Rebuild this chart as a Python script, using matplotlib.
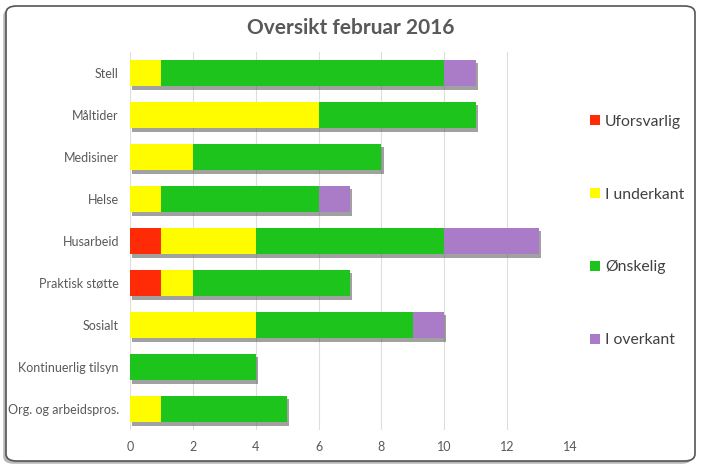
import matplotlib.pyplot as plt
import matplotlib.patheffects as pe
from matplotlib.patches import FancyBboxPatch, Patch
import numpy as np

plt.rcParams['font.family'] = ['Lato', 'DejaVu Sans']

categories = ['Stell', 'Måltider', 'Medisiner', 'Helse', 'Husarbeid',
              'Praktisk støtte', 'Sosialt', 'Kontinuerlig tilsyn',
              'Org. og arbeidspros.']
series = ['Uforsvarlig', 'I underkant', 'Ønskelig', 'I overkant']
uforsvarlig = [0, 0, 0, 0, 1, 1, 0, 0, 0]
underkant = [1, 6, 2, 1, 3, 1, 4, 0, 1]
onskelig = [9, 5, 6, 5, 6, 5, 5, 4, 4]
overkant = [1, 0, 0, 1, 3, 0, 1, 0, 0]
colors = ['#fe2b06', '#fffc00', '#1cc41c', '#aa7cc8']

fig = plt.figure(figsize=(7.02, 4.71), dpi=100)

# rounded frame with shadow
frame = FancyBboxPatch((6 / 702, 10 / 471), 689 / 702, 455 / 471,
                       boxstyle='round,pad=0,rounding_size=0.015',
                       transform=fig.transFigure, facecolor='white',
                       edgecolor='#555555', linewidth=1.2, zorder=-5,
                       path_effects=[pe.SimplePatchShadow(offset=(-2, -2), shadow_rgbFace='#888888', alpha=0.6), pe.Normal()])
fig.patches.append(frame)

ax = fig.add_axes([130 / 702, 1 - 430 / 471, 440 / 702, 378 / 471])
ax.set_facecolor('none')

y = np.arange(len(categories))
left = np.zeros(len(categories))
shadow = [pe.SimplePatchShadow(offset=(1.5, -2.5), shadow_rgbFace='#555555', alpha=0.55), pe.Normal()]
for name, vals, c in zip(series, [uforsvarlig, underkant, onskelig, overkant], colors):
    vals = np.array(vals, dtype=float)
    ax.barh(y, vals, left=left, height=0.63, color=c,
            path_effects=shadow, zorder=3)
    left += vals

ax.set_xlim(0, 14)
ax.set_ylim(8.5, -0.5)
ax.set_xticks(range(0, 15, 2))
ax.set_yticks(y)
ax.set_yticklabels(categories)
ax.tick_params(length=0, labelsize=9, colors='#595959', pad=8)
ax.tick_params(axis='x', pad=8)
ax.grid(axis='x', color='#dddddd', linewidth=0.8, zorder=0)
for s in ax.spines.values():
    s.set_visible(False)

fig.text(0.5, 1 - 28 / 471, 'Oversikt februar 2016', ha='center', va='center',
         fontsize=15, fontweight='bold', color='#595959')

handles = [Patch(facecolor=c, label=n) for n, c in zip(series, colors)]
fig.legend(handles=handles, loc='center left', bbox_to_anchor=(576 / 702, 1 - 231 / 471),
           frameon=False, fontsize=11.3, labelspacing=3.75, handlelength=0.65,
           handleheight=0.65, handletextpad=0.3, labelcolor='#404040')

fig.savefig('out.png', dpi=100)
